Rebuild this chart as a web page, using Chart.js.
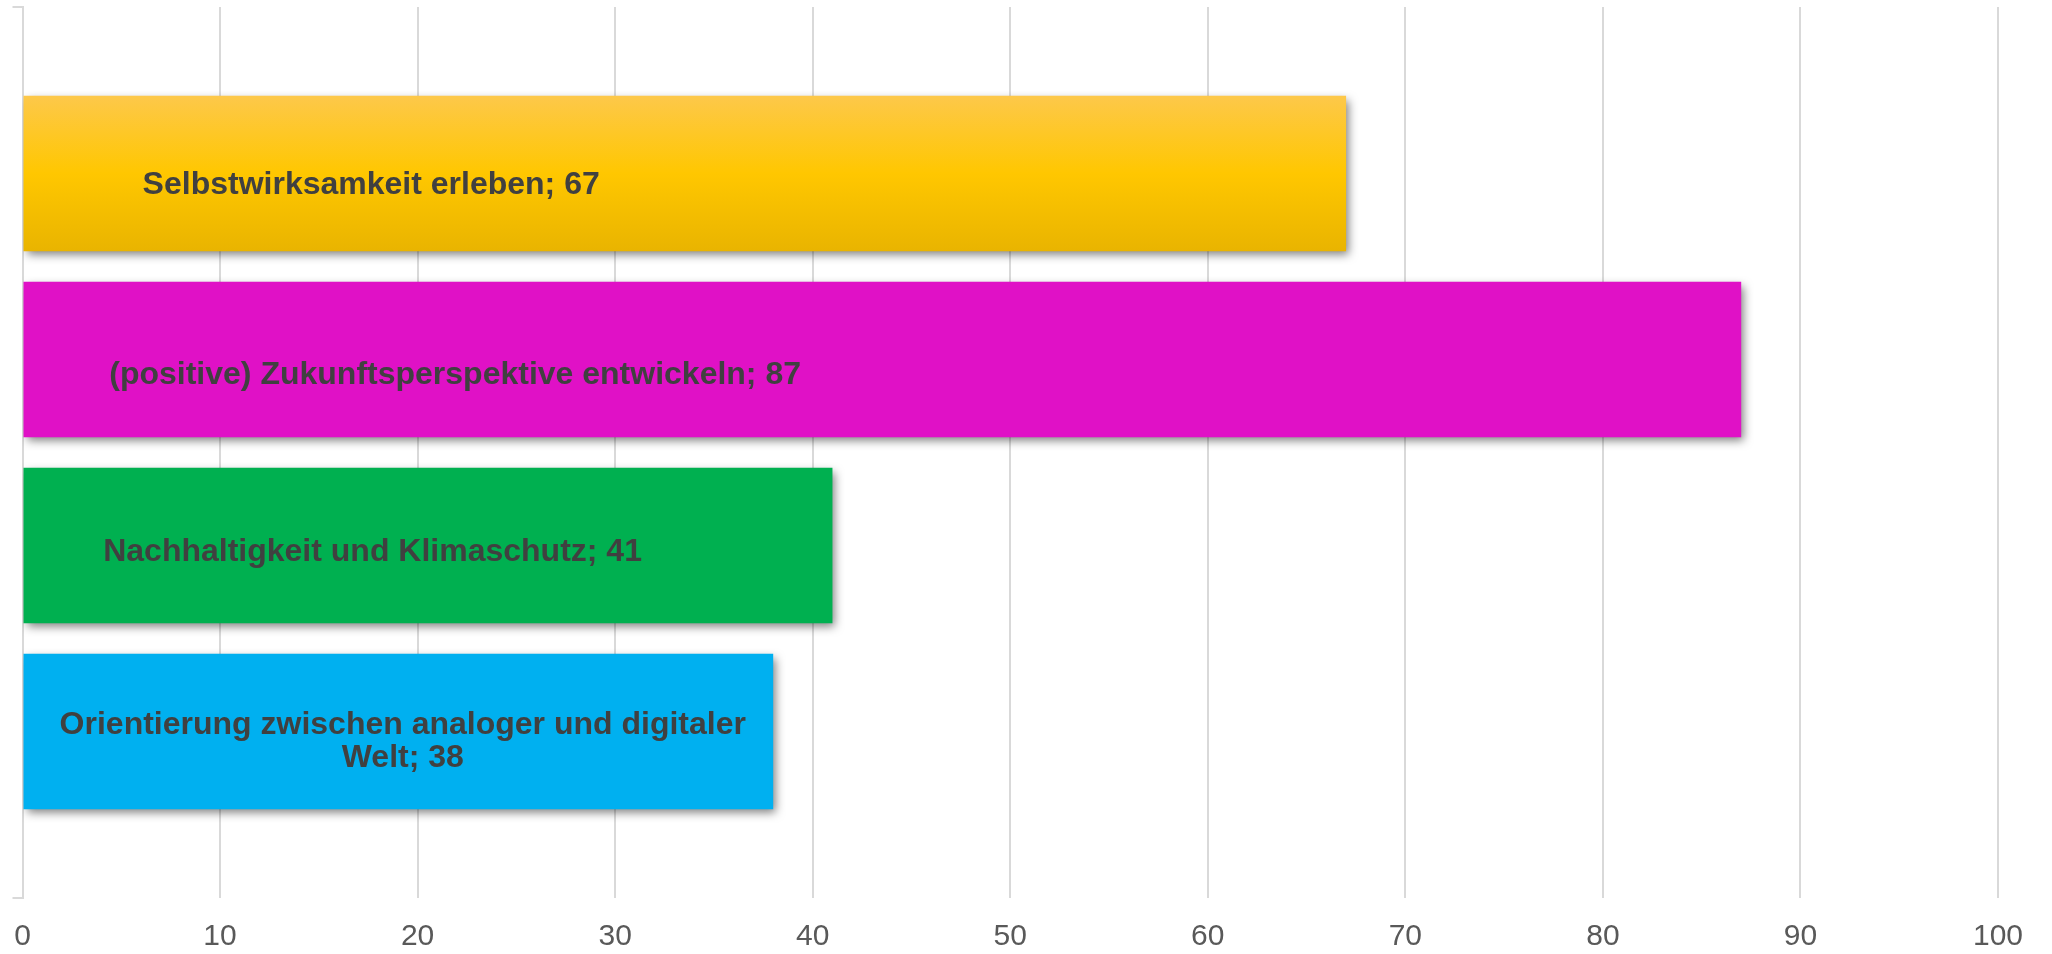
<!DOCTYPE html>
<html>
<head>
<meta charset="utf-8">
<script src="https://cdn.jsdelivr.net/npm/chart.js@4.4.1/dist/chart.umd.min.js"></script>
<style>
  html, body { margin: 0; padding: 0; background: #fff; }
  #box { width: 2052px; height: 954px; }
</style>
</head>
<body>
<div id="box"><canvas id="chart"></canvas></div>
<script>
// one category, each topic is its own series (Excel-style clustered bar)
const categories = [''];
const seriesNames = [
    'Selbstwirksamkeit erleben',
    '(positive) Zukunftsperspektive entwickeln',
    'Nachhaltigkeit und Klimaschutz',
    'Orientierung zwischen analoger und digitaler Welt'
];
const seriesValues = [67, 87, 41, 38];
const seriesColors = ['#FFC700', '#E011C6', '#00B050', '#00B0F0'];
const xMin = 0, xMax = 100, xStep = 10;

// where each data label sits: centre x in axis units, y shift in px
const labelSpots = [
    { x: 17.65, dy: 12 },
    { x: 21.9, dy: 16 },
    { x: 17.72, dy: 7 },
    { x: 19.25, dy: 10 }
];

const FONT = '"Liberation Sans", Arial, sans-serif';

// gold bar gets a vertical gradient once its geometry is known
const goldFill = {
    id: 'goldFill',
    beforeDatasetsDraw(chart) {
        let bar = chart.getDatasetMeta(0).data[0];
        if (!bar) return;
        let top = bar.y - bar.height / 2, bot = bar.y + bar.height / 2;
        let g = chart.ctx.createLinearGradient(0, top, 0, bot);
        g.addColorStop(0, '#FDC84A');
        g.addColorStop(0.5, '#FFC700');
        g.addColorStop(1, '#E9B400');
        bar.options.backgroundColor = g;
    }
};

// soft drop shadow under the bars
const barShadow = {
    id: 'barShadow',
    beforeDatasetsDraw(chart) {
        let c = chart.ctx;
        c.save();
        c.shadowColor = 'rgba(0,0,0,0.5)';
        c.shadowBlur = 9;
        c.shadowOffsetX = 3;
        c.shadowOffsetY = 4;
    },
    afterDatasetsDraw(chart) {
        chart.ctx.restore();
    }
};

function wrapText(c, text, maxW) {
    let words = text.split(' ');
    let lines = [];
    let cur = '';
    words.forEach(w => {
        let test = cur ? cur + ' ' + w : w;
        if (c.measureText(test).width > maxW && cur) {
            lines.push(cur);
            cur = w;
        } else {
            cur = test;
        }
    });
    if (cur) lines.push(cur);
    return lines;
}

// "Name; value" labels inside the bars
const barLabels = {
    id: 'barLabels',
    afterDatasetsDraw(chart) {
        let c = chart.ctx;
        let xs = chart.scales.x;
        c.save();
        c.font = 'bold 32px ' + FONT;
        c.fillStyle = '#404040';
        c.textAlign = 'center';
        c.textBaseline = 'middle';
        chart.data.datasets.forEach((ds, i) => {
            let bar = chart.getDatasetMeta(i).data[0];
            let spot = labelSpots[i];
            let txt = ds.label + '; ' + ds.data[0];
            let lines = wrapText(c, txt, 720);
            let lh = 33;
            let cx = xs.getPixelForValue(spot.x);
            let cy = bar.y + spot.dy - (lines.length - 1) * lh / 2;
            lines.forEach((ln, k) => c.fillText(ln, cx, cy + k * lh));
        });
        c.restore();
    }
};

let ctx = document.getElementById('chart').getContext('2d');
let ch = new Chart(ctx, {
    type: 'bar',
    data: {
        labels: categories,
        datasets: seriesNames.map((name, i) => ({
            label: name,
            data: [seriesValues[i]],
            backgroundColor: seriesColors[i],
            borderWidth: 0,
            categoryPercentage: 0.835,
            barPercentage: 0.836
        }))
    },
    options: {
        indexAxis: 'y',
        responsive: true,
        maintainAspectRatio: false,
        animation: false,
        layout: { padding: { top: 7, left: 12.5, right: 54, bottom: 0 } },
        scales: {
            x: {
                min: xMin,
                max: xMax,
                afterFit(scale) {
                    scale.height = 56;
                    scale.paddingLeft = 0;
                    scale.paddingRight = 0;
                },
                ticks: {
                    stepSize: xStep,
                    color: '#595959',
                    padding: 21,
                    font: { family: FONT, size: 30 }
                },
                grid: { color: '#D9D9D9', lineWidth: 2, drawTicks: false },
                border: { display: false }
            },
            y: {
                afterFit(scale) { scale.width = 10; },
                ticks: { display: false },
                grid: { drawOnChartArea: false, drawTicks: true, tickLength: 10, color: '#D9D9D9', lineWidth: 2 },
                border: { display: true, color: '#D9D9D9', width: 2 }
            }
        },
        plugins: {
            legend: { display: false },
            tooltip: { enabled: false }
        }
    },
    plugins: [goldFill, barShadow, barLabels]
});
</script>
</body>
</html>
